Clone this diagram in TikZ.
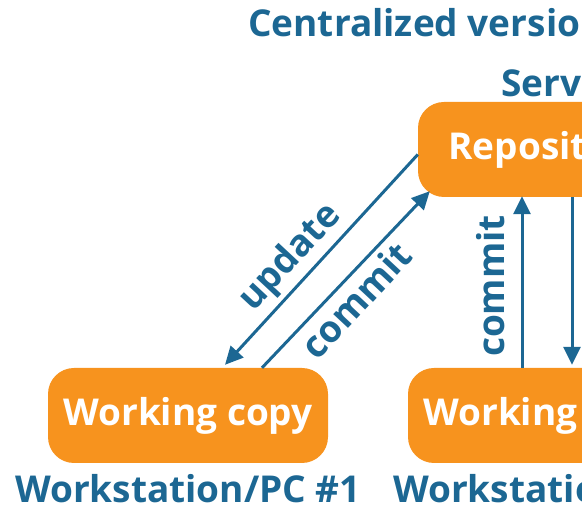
\documentclass[tikz,border=0pt]{standalone}
\usepackage{fontspec}
\setmainfont{Open Sans}
\usetikzlibrary{arrows.meta}
\definecolor{orng}{HTML}{F7931E}
\definecolor{blu}{HTML}{1C6793}
\begin{document}
\begin{tikzpicture}[x=1pt,y=-1pt,
  box/.style={fill=orng, rounded corners=26pt, minimum width=280pt, minimum height=95pt, text=white, font=\fontsize{37}{41}\selectfont\bfseries, inner sep=0pt},
  lbl/.style={text=blu, font=\fontsize{37}{41}\selectfont\bfseries, inner sep=0pt},
  arr/.style={draw=blu, line width=3pt, -{Triangle[length=18pt,width=17pt]}},
]
\useasboundingbox (0,0) rectangle (582,510);
\clip (0,0) rectangle (582,510);
\node[box, minimum width=260pt] (repo) at (548,149.5) {Repository};
\node[box] (wc1) at (188,415.5) {Working copy};
\node[box] (wc2) at (548,415.5) {Working copy};
\node[lbl, anchor=base west] (title) at (248,37) {Centralized version control};
\node[lbl, anchor=base west] (server) at (501,97) {Server};
\node[lbl, anchor=base] (ws1) at (188,503) {Workstation/PC \#1};
\node[lbl, anchor=base west] (ws2) at (393,503) {Workstation/PC \#2};
\draw[arr] ([yshift=-5pt]repo.west) -- ([xshift=37pt,yshift=3pt]wc1.north);
\draw[arr] ([xshift=74pt]wc1.north) -- ([xshift=12pt,yshift=6pt]repo.south west);
\draw[arr] ([xshift=-26pt]wc2.north) -- ([xshift=-26pt,yshift=1pt]repo.south);
\draw[arr] ([xshift=24pt]repo.south) -- ([xshift=24pt,yshift=3pt]wc2.north);
\node[lbl, rotate=47] (lupd) at (291,258) {update};
\node[lbl, rotate=47] (lcom1) at (356,300) {commit};
\node[lbl, rotate=90] (lcom2) at (491,286) {commit};
\end{tikzpicture}
\end{document}
